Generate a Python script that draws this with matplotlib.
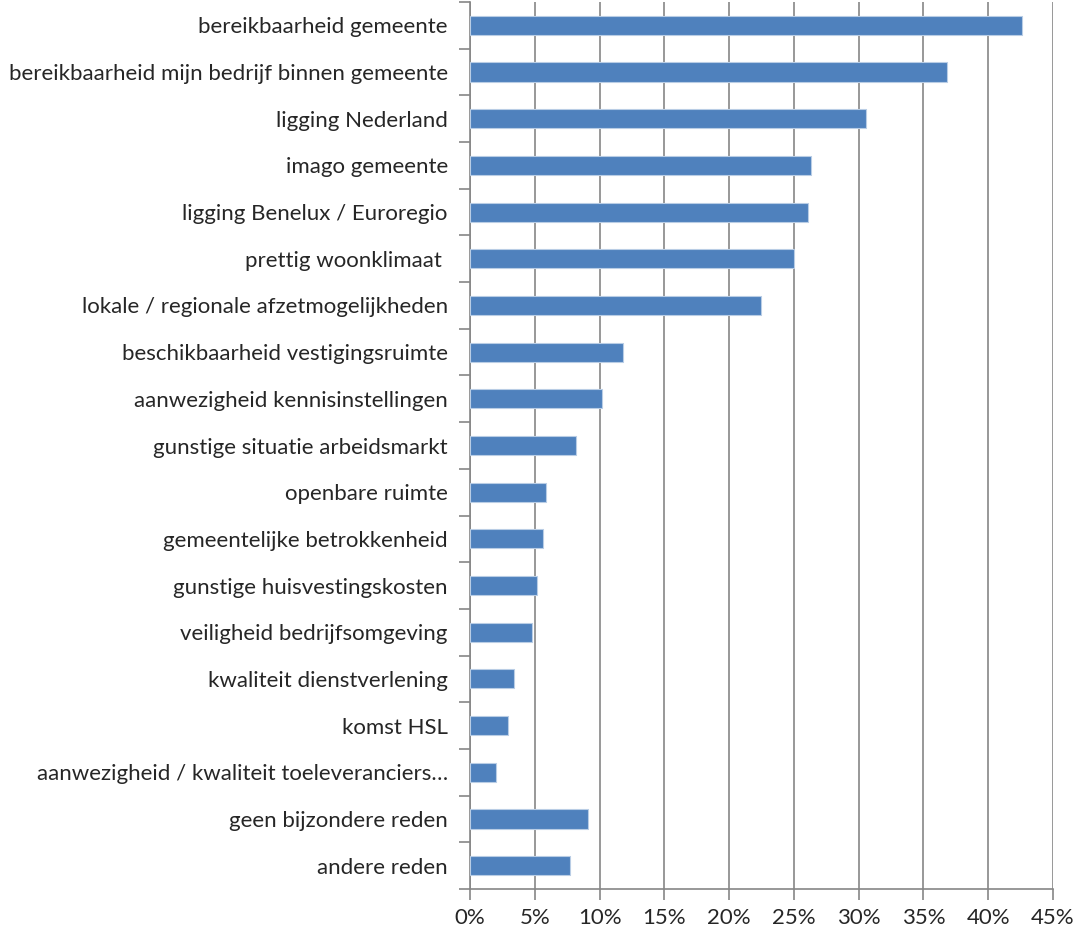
import matplotlib
matplotlib.use("Agg")
import matplotlib.pyplot as plt
from matplotlib.ticker import FixedLocator, FuncFormatter

categories = [
    "bereikbaarheid gemeente",
    "bereikbaarheid mijn bedrijf binnen gemeente",
    "ligging Nederland",
    "imago gemeente",
    "ligging Benelux / Euroregio",
    "prettig woonklimaat ",
    "lokale / regionale afzetmogelijkheden",
    "beschikbaarheid vestigingsruimte",
    "aanwezigheid kennisinstellingen",
    "gunstige situatie arbeidsmarkt",
    "openbare ruimte",
    "gemeentelijke betrokkenheid",
    "gunstige huisvestingskosten",
    "veiligheid bedrijfsomgeving",
    "kwaliteit dienstverlening",
    "komst HSL",
    "aanwezigheid / kwaliteit toeleveranciers\u2026",
    "geen bijzondere reden",
    "andere reden",
]
values = [42.6, 36.8, 30.6, 26.3, 26.1, 25.0, 22.5, 11.8, 10.2, 8.2,
          5.9, 5.6, 5.2, 4.8, 3.4, 2.9, 2.0, 9.1, 7.7]
xticks = [0, 5, 10, 15, 20, 25, 30, 35, 40, 45]

plt.rcParams['font.family'] = ['Lato', 'DejaVu Sans']

fig = plt.figure(figsize=(10.77, 9.38), dpi=100)
ax = fig.add_axes([470/1077, 1-889/938, (1053-470)/1077, 887/938])

n = len(categories)
ypos = list(range(n))
ax.barh(ypos, values, height=0.41, color="#4F81BD", edgecolor="#B9CDE5",
        linewidth=0.8, zorder=3)
ax.set_ylim(n - 0.5, -0.5)
ax.set_xlim(0, 45)

ax.set_yticks(ypos)
ax.set_yticklabels(categories, fontsize=16, color="#262626")
ax.yaxis.set_minor_locator(FixedLocator([i - 0.5 for i in range(n + 1)]))
ax.tick_params(axis='y', which='major', length=0, pad=16)
ax.tick_params(axis='y', which='minor', length=8, width=1.2, color="#868686")

ax.xaxis.set_major_locator(FixedLocator(xticks))
ax.xaxis.set_major_formatter(FuncFormatter(lambda v, p: f"{int(v)}%"))
ax.tick_params(axis='x', which='major', length=8, width=1.2, color="#868686",
               labelsize=16, labelcolor="#262626", pad=6)

ax.grid(axis='x', color="#868686", linewidth=1.2, zorder=0)
for s in ['top', 'right']:
    ax.spines[s].set_visible(False)
for s in ['left', 'bottom']:
    ax.spines[s].set_color("#868686")
    ax.spines[s].set_linewidth(1.2)

fig.savefig("out.png", dpi=100)
